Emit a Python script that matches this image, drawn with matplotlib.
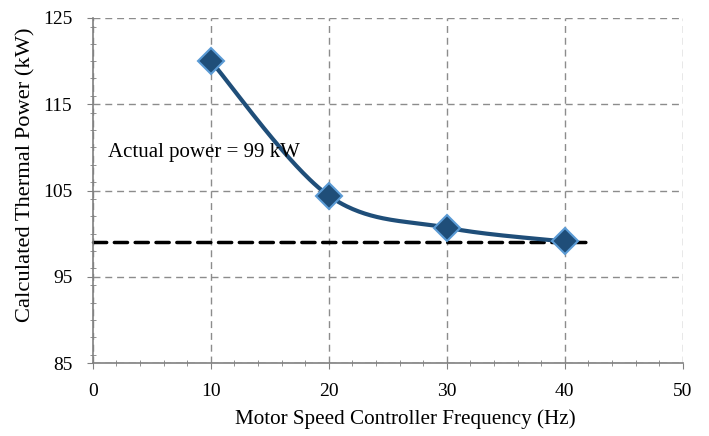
import numpy as np
import matplotlib
matplotlib.use("Agg")
import matplotlib.pyplot as plt
from matplotlib.ticker import MultipleLocator

plt.rcParams['font.family'] = ['Liberation Serif', 'DejaVu Serif']

# data
freq = [10, 20, 30, 40]
power = [120.0, 104.4, 100.7, 99.1]

# reference line (actual power)
actual_x = [0, 42]
actual_y = [99, 99]

x_ticks = [0, 10, 20, 30, 40, 50]
y_ticks = [85, 95, 105, 115, 125]


def excel_smooth(xs, ys, n=60):
    # bezier pieces like the spreadsheet "smoothed line"
    p = np.column_stack([xs, ys]).astype(float)
    pts = np.vstack([p[0], p, p[-1]])
    out = []
    for i in range(1, len(pts) - 2):
        p0, p1, p2, p3 = pts[i - 1], pts[i], pts[i + 1], pts[i + 2]
        c1 = p1 + (p2 - p0) / 6.0
        c2 = p2 - (p3 - p1) / 6.0
        t = np.linspace(0, 1, n)[:, None]
        seg = ((1 - t) ** 3) * p1 + 3 * ((1 - t) ** 2) * t * c1 + 3 * (1 - t) * t ** 2 * c2 + t ** 3 * p2
        out.append(seg)
    out = np.vstack(out)
    return out[:, 0], out[:, 1]


fig = plt.figure(figsize=(7.09, 4.36), dpi=100)
ax = fig.add_axes([0.131, 0.167, 0.832, 0.792])

sx, sy = excel_smooth(freq, power)
ax.plot(sx, sy, color='#1F4E79', lw=3, zorder=3, solid_capstyle='round')
ax.plot(freq, power, ls='none', marker='D', ms=13, mfc='#1F4E79',
        mec='#5B9BD5', mew=1.5, zorder=4)

ax.plot(actual_x, actual_y, color='black', lw=2.5, ls=(0, (3.8, 2.2)),
        dash_capstyle='round', zorder=2, clip_on=False)
ax.text(1.3, 109.4, 'Actual power = 99 kW', fontsize=15, va='center', ha='left')

ax.set_xlim(0, 50)
ax.set_ylim(85, 125)
ax.set_xticks(x_ticks)
ax.set_yticks(y_ticks)
ax.xaxis.set_minor_locator(MultipleLocator(2))
ax.yaxis.set_minor_locator(MultipleLocator(2))

ax.grid(True, which='major', color='#8c8c8c', ls=(0, (5, 3.5)), lw=1)
ax.set_axisbelow(True)
for s in ['top', 'right']:
    ax.spines[s].set_visible(False)
for s in ['left', 'bottom']:
    ax.spines[s].set_color('#808080')
    ax.spines[s].set_linewidth(1.2)

ax.tick_params(which='major', direction='out', length=4.3, color='#808080',
               labelsize=14)
ax.tick_params(axis='y', which='major', pad=10.5)
ax.tick_params(axis='x', which='major', pad=10)
ax.tick_params(which='minor', direction='inout', length=5, color='#808080')

ax.set_xlabel('Motor Speed Controller Frequency (Hz)', fontsize=15.2)
ax.set_ylabel('Calculated Thermal Power (kW)', fontsize=16.2)
ax.xaxis.set_label_coords(0.529, -0.132)
ax.yaxis.set_label_coords(-0.097, 0.545)

fig.savefig('out.png', dpi=100)
